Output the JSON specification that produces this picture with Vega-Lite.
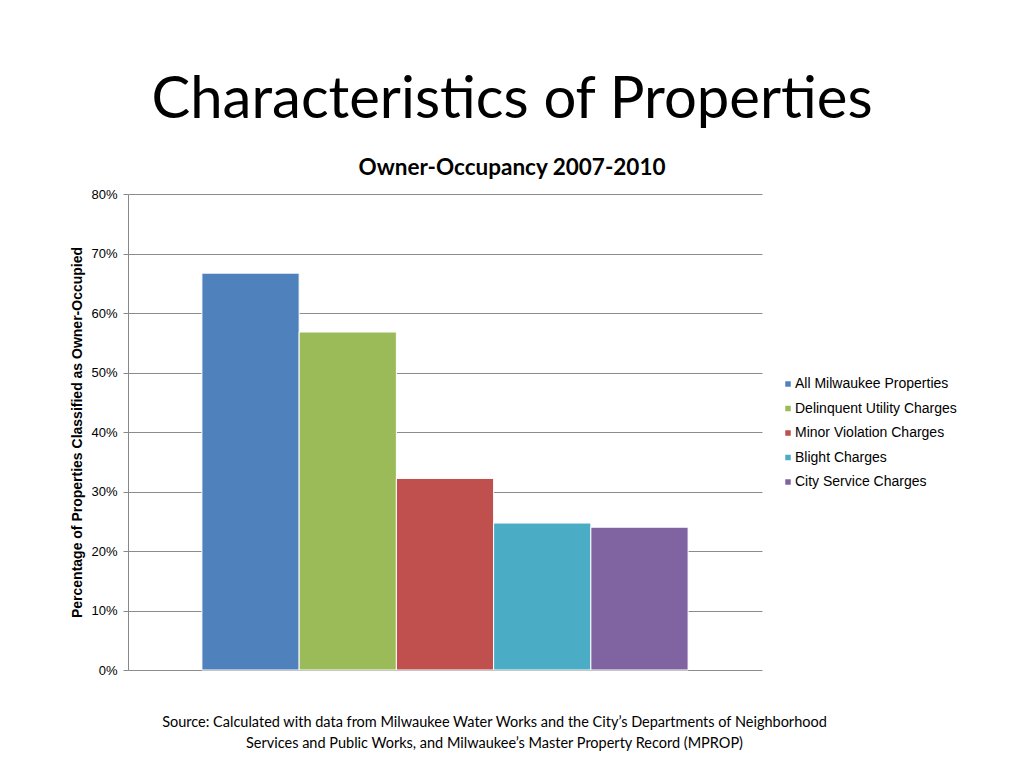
{
  "$schema": "https://vega.github.io/schema/vega-lite/v6.json",
  "width": 634,
  "height": 476,
  "autosize": {"type": "none"},
  "padding": {"left": 128, "top": 194, "right": 262, "bottom": 98},
  "background": "white",
  "title": {
    "text": "Characteristics of Properties",
    "subtitle": "Owner-Occupancy 2007-2010",
    "anchor": "middle",
    "frame": "group",
    "dx": 67,
    "font": "Lato",
    "fontSize": 58,
    "fontWeight": "normal",
    "color": "#000000",
    "subtitleFont": "Lato",
    "subtitleFontSize": 22.5,
    "subtitleFontWeight": "bold",
    "subtitleColor": "#000000",
    "subtitlePadding": 27,
    "offset": 9
  },
  "data": {
    "values": [
      {"series": "All Milwaukee Properties", "pct": 0.667},
      {"series": "Delinquent Utility Charges", "pct": 0.568},
      {"series": "Minor Violation Charges", "pct": 0.322},
      {"series": "Blight Charges", "pct": 0.247},
      {"series": "City Service Charges", "pct": 0.240}
    ]
  },
  "mark": {"type": "bar", "stroke": "#ffffff", "strokeWidth": 1},
  "encoding": {
    "x": {
      "field": "series",
      "type": "nominal",
      "sort": null,
      "scale": {"paddingInner": 0, "paddingOuter": 0.76},
      "axis": {
        "labels": false,
        "ticks": false,
        "domain": false,
        "title": [
          "Source: Calculated with data from Milwaukee Water Works and the City’s Departments of Neighborhood",
          "Services and Public Works, and Milwaukee’s Master Property Record (MPROP)"
        ],
        "titleFont": "Lato",
        "titleFontSize": 14.5,
        "titleFontWeight": "normal",
        "titleColor": "#000000",
        "titleX": 366,
        "titleY": 56,
        "titleLineHeight": 21,
        "titleAnchor": "middle",
        "titleAlign": "center",
        "titleBaseline": "alphabetic"
      }
    },
    "y": {
      "field": "pct",
      "type": "quantitative",
      "scale": {"domain": [0, 0.8]},
      "axis": {
        "values": [0, 0.1, 0.2, 0.3, 0.4, 0.5, 0.6, 0.7, 0.8],
        "format": ".0%",
        "labelFont": "Liberation Sans",
        "labelFontSize": 13,
        "labelColor": "#000000",
        "labelPadding": 6,
        "tickSize": 5,
        "tickColor": "#888888",
        "domainColor": "#888888",
        "gridColor": "#8c8c8c",
        "gridWidth": 1,
        "title": "Percentage of Properties Classified as Owner-Occupied",
        "titleFont": "Liberation Sans",
        "titleFontSize": 14,
        "titleFontWeight": "bold",
        "titleColor": "#000000",
        "titleX": -51,
        "titleY": 238,
        "titleAngle": -90,
        "titleAlign": "center",
        "titleBaseline": "middle"
      }
    },
    "color": {
      "field": "series",
      "type": "nominal",
      "sort": null,
      "scale": {
        "domain": ["All Milwaukee Properties", "Delinquent Utility Charges", "Minor Violation Charges", "Blight Charges", "City Service Charges"],
        "range": ["#4F81BD", "#9BBB59", "#C0504D", "#4BACC6", "#8064A2"]
      },
      "legend": {
        "title": null,
        "orient": "none",
        "legendX": 653,
        "legendY": 183,
        "symbolType": "square",
        "symbolSize": 30,
        "symbolStrokeWidth": 0,
        "labelFont": "Liberation Sans",
        "labelFontSize": 14,
        "labelColor": "#000000",
        "labelOffset": 0,
        "labelLimit": 300,
        "rowPadding": 10.5
      }
    }
  },
  "config": {
    "view": {"stroke": null}
  }
}
